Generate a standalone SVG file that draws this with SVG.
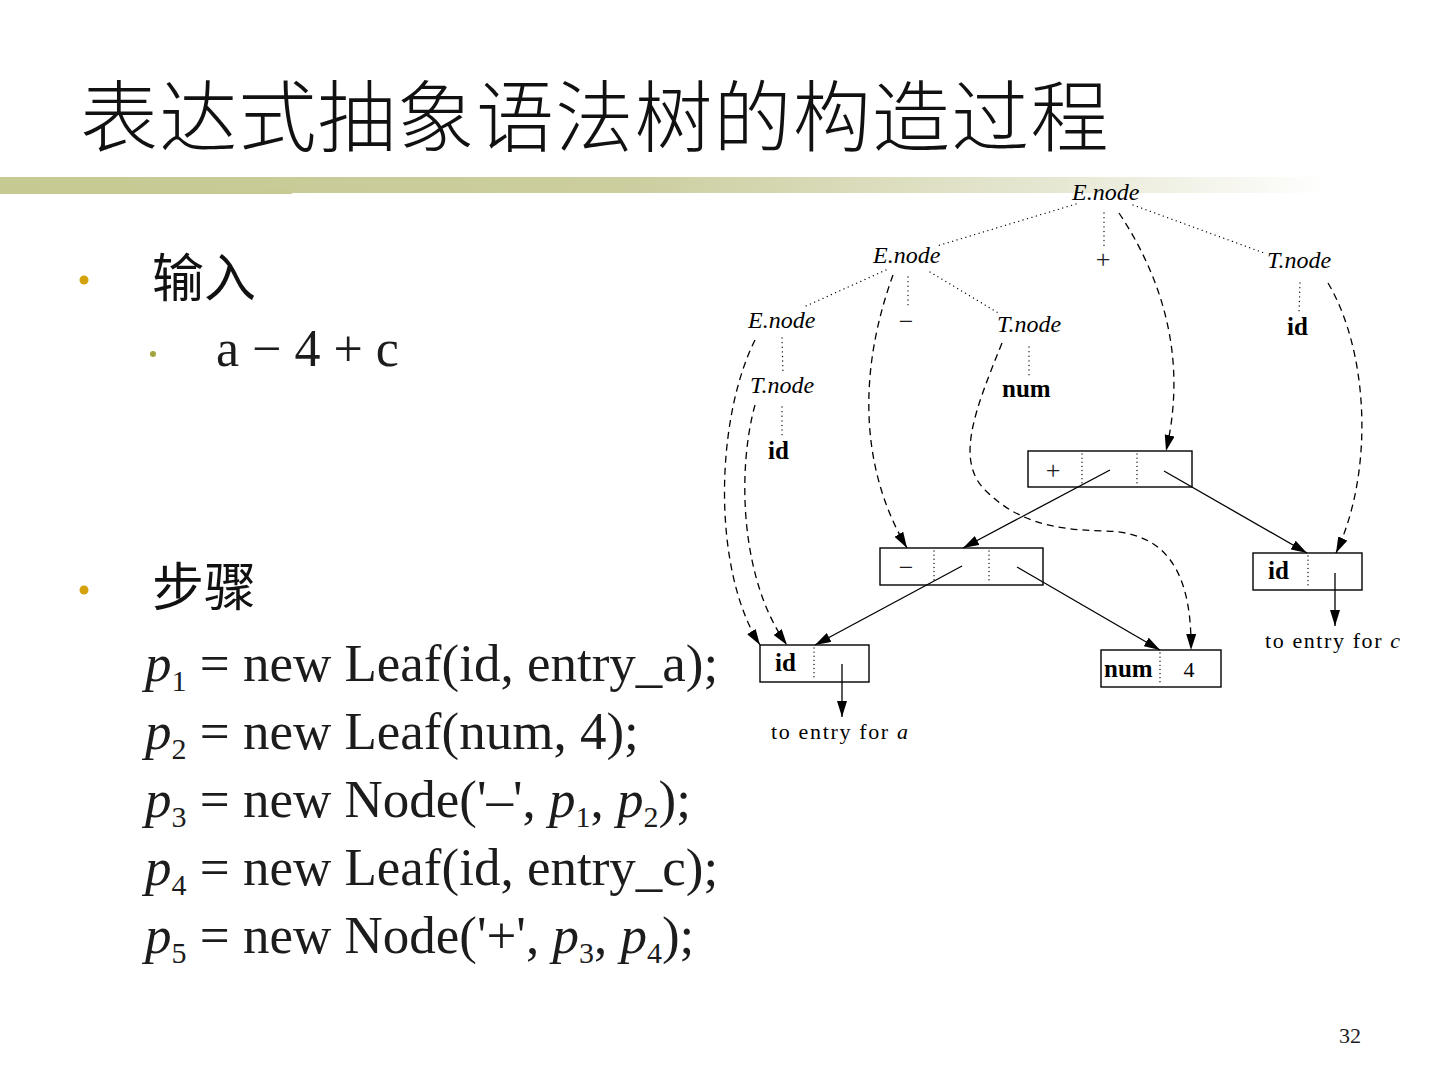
<svg xmlns="http://www.w3.org/2000/svg" width="1440" height="1080" viewBox="0 0 1440 1080">
<defs>
  <linearGradient id="bar" x1="0" y1="0" x2="1" y2="0">
    <stop offset="0" stop-color="#c6c991"/>
    <stop offset="0.45" stop-color="#ccce9f"/>
    <stop offset="0.75" stop-color="#e6e7d2"/>
    <stop offset="0.95" stop-color="#ffffff"/>
  </linearGradient>
  <marker id="ah" viewBox="0 0 16 10" refX="16" refY="5" markerWidth="16" markerHeight="10" markerUnits="userSpaceOnUse" orient="auto">
    <path d="M0,0 L16,5 L0,10 Z" fill="#000"/>
  </marker>
  <style>
    .cjk { font-family: "Noto Sans CJK SC", sans-serif; fill: #111; }
    .title { font-weight: 300; }
    .body { font-family: "Liberation Serif", serif; fill: #1c1c1c; }
    .lab { font-family: "Liberation Serif", serif; font-style: italic; font-size: 24px; fill: #000; }
    .bold { font-family: "Liberation Serif", serif; font-weight: bold; font-size: 25px; fill: #000; }
    .rom { font-family: "Liberation Serif", serif; font-size: 22px; fill: #000; }
    .dot { fill: none; stroke: #000; stroke-width: 1.3; stroke-dasharray: 0.1 4.5; stroke-linecap: round; }
    .dash { fill: none; stroke: #000; stroke-width: 1.3; stroke-dasharray: 7 5; marker-end: url(#ah); }
    .solid { fill: none; stroke: #000; stroke-width: 1.3; marker-end: url(#ah); }
    .box { fill: #fff; stroke: #000; stroke-width: 1.4; }
    .div { stroke: #000; stroke-width: 1.3; stroke-dasharray: 0.1 4; stroke-linecap: round; }
  </style>
</defs>
<rect width="1440" height="1080" fill="#fff"/>

<g id="title">
  <text class="cjk title" x="80" y="146" font-size="78" letter-spacing="1.2">表达式抽象语法树的构造过程</text>
  <rect x="0" y="177" width="1400" height="16" fill="url(#bar)"/>
  <rect x="0" y="190" width="292" height="4" fill="#c8ca93"/>
</g>

<g id="bullets">
  <circle cx="84" cy="280" r="4.5" fill="#d4a20c"/>
  <text class="cjk" x="152" y="297" font-size="52">输入</text>
  <circle cx="153" cy="354" r="3" fill="#a3a33f"/>
  <text class="body" x="216" y="366" font-size="52">a − 4 + c</text>
  <circle cx="84" cy="590" r="4.5" fill="#d4a20c"/>
  <text class="cjk" x="152" y="606" font-size="52">步骤</text>
</g>

<g id="code" class="body" font-size="53">
  <text x="145" y="681"><tspan font-style="italic">p</tspan><tspan font-size="30" dy="10">1</tspan><tspan dy="-10"> = new Leaf(id, entry_a);</tspan></text>
  <text x="145" y="749"><tspan font-style="italic">p</tspan><tspan font-size="30" dy="10">2</tspan><tspan dy="-10"> = new Leaf(num, 4);</tspan></text>
  <text x="145" y="817"><tspan font-style="italic">p</tspan><tspan font-size="30" dy="10">3</tspan><tspan dy="-10"> = new Node('–', </tspan><tspan font-style="italic">p</tspan><tspan font-size="30" dy="10">1</tspan><tspan dy="-10">, </tspan><tspan font-style="italic">p</tspan><tspan font-size="30" dy="10">2</tspan><tspan dy="-10">);</tspan></text>
  <text x="145" y="885"><tspan font-style="italic">p</tspan><tspan font-size="30" dy="10">4</tspan><tspan dy="-10"> = new Leaf(id, entry_c);</tspan></text>
  <text x="145" y="953"><tspan font-style="italic">p</tspan><tspan font-size="30" dy="10">5</tspan><tspan dy="-10"> = new Node('+', </tspan><tspan font-style="italic">p</tspan><tspan font-size="30" dy="10">3</tspan><tspan dy="-10">, </tspan><tspan font-style="italic">p</tspan><tspan font-size="30" dy="10">4</tspan><tspan dy="-10">);</tspan></text>
</g>

<text id="page" class="body" x="1350" y="1043" font-size="22" text-anchor="middle">32</text>

<!-- parse tree labels -->
<g id="n-E-top"><text class="lab" x="1072" y="200">E.node</text></g>
<g id="n-E-mid"><text class="lab" x="873" y="263">E.node</text></g>
<g id="n-plus"><text class="body" x="1103" y="268" font-size="26" text-anchor="middle" fill="#000">+</text></g>
<g id="n-T-right"><text class="lab" x="1267" y="268">T.node</text></g>
<g id="n-E-left"><text class="lab" x="748" y="328">E.node</text></g>
<g id="n-minus"><text class="body" x="906" y="330" font-size="26" text-anchor="middle" fill="#000">−</text></g>
<g id="n-T-mid"><text class="lab" x="997" y="332">T.node</text></g>
<g id="n-id-right"><text class="bold" x="1287" y="335">id</text></g>
<g id="n-T-left"><text class="lab" x="750" y="393">T.node</text></g>
<g id="n-num"><text class="bold" x="1002" y="397">num</text></g>
<g id="n-id-left"><text class="bold" x="768" y="459">id</text></g>

<!-- syntax tree records -->
<g id="box-plus">
  <rect class="box" x="1028" y="451" width="164" height="36"/>
  <line class="div" x1="1082" y1="454" x2="1082" y2="485"/>
  <line class="div" x1="1137" y1="454" x2="1137" y2="485"/>
  <text class="body" x="1053" y="479" font-size="26" text-anchor="middle" fill="#000">+</text>
</g>
<g id="box-minus">
  <rect class="box" x="880" y="548" width="163" height="37"/>
  <line class="div" x1="934" y1="551" x2="934" y2="582"/>
  <line class="div" x1="989" y1="551" x2="989" y2="582"/>
  <text class="body" x="906" y="576" font-size="26" text-anchor="middle" fill="#000">−</text>
</g>
<g id="box-id-c">
  <rect class="box" x="1253" y="553" width="109" height="37"/>
  <line class="div" x1="1308" y1="556" x2="1308" y2="587"/>
  <text class="bold" x="1268" y="579">id</text>
</g>
<g id="box-id-a">
  <rect class="box" x="760" y="645" width="109" height="37"/>
  <line class="div" x1="814" y1="648" x2="814" y2="679"/>
  <text class="bold" x="775" y="671">id</text>
</g>
<g id="box-num">
  <rect class="box" x="1101" y="650" width="120" height="37"/>
  <line class="div" x1="1160" y1="653" x2="1160" y2="684"/>
  <text class="bold" x="1104" y="677">num</text>
  <text class="rom" x="1189" y="677" text-anchor="middle" font-size="23">4</text>
</g>
<g id="entry-a"><text class="rom" x="771" y="739" textLength="137">to entry for <tspan font-style="italic">a</tspan></text></g>
<g id="entry-c"><text class="rom" x="1265" y="648" textLength="135">to entry for <tspan font-style="italic">c</tspan></text></g>

<g id="connectors">
  <!-- parse tree dotted edges -->
  <line class="dot" x1="1076" y1="204" x2="937" y2="246"/>
  <line class="dot" x1="1104" y1="213" x2="1104" y2="247"/>
  <line class="dot" x1="1133" y1="205" x2="1264" y2="253"/>
  <line class="dot" x1="886" y1="270" x2="806" y2="306"/>
  <line class="dot" x1="908" y1="277" x2="908" y2="309"/>
  <line class="dot" x1="930" y1="272" x2="1000" y2="314"/>
  <line class="dot" x1="782" y1="338" x2="783" y2="373"/>
  <line class="dot" x1="782" y1="407" x2="782" y2="439"/>
  <line class="dot" x1="1029" y1="347" x2="1029" y2="377"/>
  <line class="dot" x1="1300" y1="283" x2="1299" y2="313"/>
  <!-- dashed attribute pointers -->
  <path class="dash" d="M1119,213 C1170,290 1185,370 1166,451"/>
  <path class="dash" d="M1328,283 C1368,350 1375,470 1336,553"/>
  <path class="dash" d="M893,275 C862,360 855,460 907,548"/>
  <path class="dash" d="M755,340 C715,420 712,570 760,645"/>
  <path class="dash" d="M755,405 C737,470 740,580 787,645"/>
  <path class="dash" d="M1002,343 C975,410 955,460 985,490 C1015,520 1050,530 1105,531 C1165,532 1192,570 1191,650"/>
  <!-- solid tree pointers -->
  <line class="solid" x1="1110" y1="470" x2="963" y2="548"/>
  <line class="solid" x1="1164" y1="471" x2="1307" y2="553"/>
  <line class="solid" x1="962" y1="566" x2="815" y2="645"/>
  <line class="solid" x1="1017" y1="567" x2="1160" y2="650"/>
  <line class="solid" x1="1335" y1="573" x2="1335" y2="626"/>
  <line class="solid" x1="842" y1="664" x2="842" y2="717"/>
</g>
</svg>
